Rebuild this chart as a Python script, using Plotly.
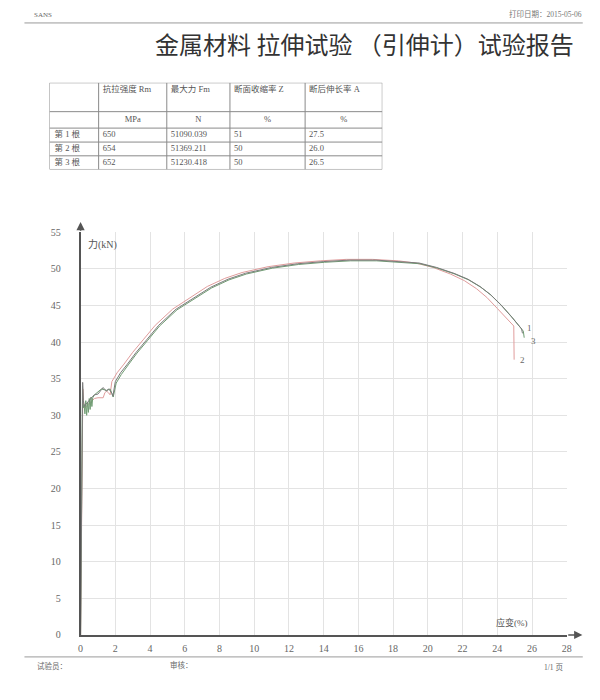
import plotly.graph_objects as go

# ---------------- data ----------------
table_header = ["", "抗拉强度 Rm", "最大力 Fm", "断面收缩率 Z", "断后伸长率 A"]
units = ["", "MPa", "N", "%", "%"]
specimens = ["第 1 根", "第 2 根", "第 3 根"]
rm_mpa = ["650", "654", "652"]
fm_n = ["51090.039", "51369.211", "51230.418"]
z_pct = ["51", "50", "50"]
a_pct = ["27.5", "26.0", "26.5"]

strain_1 = [0, 0.08, 0.12, 0.16, 0.22, 0.3, 0.4, 0.5, 0.6, 0.7, 0.8, 1.0, 1.2, 1.3, 1.4, 1.5,
            1.6, 1.7, 1.8, 1.86, 2.0, 2.3, 2.7, 3.2, 3.8, 4.5, 5.5, 6.5, 7.5, 8.5, 9.5, 11,
            12.5, 14, 15.5, 17, 18.5, 19.5, 20.5, 21.5, 22.3, 23, 23.6, 24.2, 24.8, 25.4, 25.45]
force_1 = [0, 30, 34.5, 32, 31.2, 31.5, 31.8, 32.0, 32.3, 32.6, 32.8, 32.9, 33.5, 33.8, 33.5, 33.3,
           33.6, 33.4, 33.0, 32.6, 34.6, 35.8, 37.0, 38.6, 40.3, 42.3, 44.5, 46.0, 47.5, 48.6, 49.4, 50.2,
           50.7, 51.0, 51.2, 51.2, 51.0, 50.8, 50.2, 49.4, 48.6, 47.6, 46.5, 45.1, 43.5, 41.8, 41.2]

strain_2 = [0, 0.09, 0.13, 0.18, 0.25, 0.4, 0.6, 0.8, 1.0, 1.3, 1.4, 1.5, 1.6, 1.7, 1.8, 2.1,
            2.5, 3.0, 3.6, 4.3, 5.3, 6.3, 7.3, 8.3, 9.3, 10.8, 12.3, 13.8, 15.3, 16.8, 18.3, 19.3,
            20.3, 21.3, 22.1, 22.8, 23.4, 24.0, 24.5, 24.95, 24.97]
force_2 = [0, 28, 33.6, 31.5, 31.0, 31.4, 31.9, 32.3, 32.4, 32.4, 33.1, 33.3, 33.1, 32.8, 34.6, 35.8,
           37.0, 38.6, 40.3, 42.3, 44.5, 46.1, 47.6, 48.7, 49.5, 50.3, 50.8, 51.1, 51.3, 51.3, 51.1, 50.8,
           50.2, 49.3, 48.4, 47.3, 46.1, 44.6, 43.3, 42.2, 37.6]

strain_3 = [0, 0.07, 0.11, 0.15, 0.2, 0.25, 0.3, 0.35, 0.4, 0.45, 0.5, 0.55, 0.6, 0.65, 0.7, 0.8,
            1.0, 1.2, 1.5, 1.7, 1.8, 1.88, 2.05, 2.35, 2.75, 3.25, 3.85, 4.55, 5.55, 6.55, 7.55, 8.55,
            9.55, 11.05, 12.55, 14.05, 15.55, 17.05, 18.55, 19.55, 20.55, 21.55, 22.35, 23.05, 23.65,
            24.25, 24.85, 25.5, 25.55]
force_3 = [0, 29, 34.0, 31.0, 31.5, 30.2, 32.0, 30.0, 31.8, 30.4, 32.3, 30.8, 32.5, 31.2, 32.4, 32.8,
           33.2, 33.6, 33.4, 33.6, 33.0, 32.5, 34.4, 35.6, 36.9, 38.5, 40.2, 42.2, 44.4, 45.9, 47.4, 48.5,
           49.3, 50.1, 50.6, 50.9, 51.1, 51.1, 50.9, 50.7, 50.1, 49.3, 48.5, 47.5, 46.4,
           45.0, 43.4, 41.5, 40.6]

x_ticks = list(range(0, 29, 2))
y_ticks = list(range(0, 56, 5))

# ---------------- layout helpers ----------------
W, H = 600, 700
SC, CX, CY = 0.986, 2.6, 4.0      # compensation for the rendering scale
def px(x):
    return ((x - CX) / SC) / W
def py(y):
    return 1 - ((y - CY) / SC) / H

serif = "Liberation Serif, Noto Sans CJK SC"
cjk = "Noto Sans CJK SC"
tcolor = "#555"
tsize = 8.5

# table grid (in table-local pixel units)
col_edges = [0, 49, 117, 180, 255, 332]
row_edges = [0, 29, 45.5, 59.5, 73.3, 87]

fig = go.Figure()

# ---- table drawn on its own hidden axes ----
pad = 4
hx = [col_edges[i] + pad for i in range(1, 5)]
fig.add_trace(go.Scatter(x=hx, y=[7] * 4, text=table_header[1:], mode="text",
                         textposition="middle right", xaxis="x2", yaxis="y2", hoverinfo="skip",
                         textfont=dict(family=serif, size=tsize, color=tcolor)))
ux = [(col_edges[i] + col_edges[i + 1]) / 2 for i in range(1, 5)]
uy = (row_edges[1] + row_edges[2]) / 2
fig.add_trace(go.Scatter(x=ux, y=[uy] * 4, text=units[1:], mode="text",
                         textposition="middle center", xaxis="x2", yaxis="y2", hoverinfo="skip",
                         textfont=dict(family=serif, size=tsize, color=tcolor)))
cols = [specimens, rm_mpa, fm_n, z_pct, a_pct]
tx, ty, tt = [], [], []
for r in range(3):
    yc = (row_edges[r + 2] + row_edges[r + 3]) / 2
    for c in range(5):
        tx.append(col_edges[c] + pad + (1 if c == 0 else 0))
        ty.append(yc)
        tt.append(cols[c][r])
fig.add_trace(go.Scatter(x=tx, y=ty, text=tt, mode="text", textposition="middle right",
                         xaxis="x2", yaxis="y2", hoverinfo="skip",
                         textfont=dict(family=serif, size=tsize, color=tcolor)))
for xe in col_edges:
    fig.add_shape(type="line", xref="x2", yref="y2", x0=xe, x1=xe, y0=0, y1=row_edges[-1],
                  line=dict(color="#8a8a8a", width=1))
for ye in row_edges:
    fig.add_shape(type="line", xref="x2", yref="y2", x0=0, x1=col_edges[-1], y0=ye, y1=ye,
                  line=dict(color="#8a8a8a", width=1))

# ---- curves ----
fig.add_trace(go.Scatter(x=strain_2, y=force_2, mode="lines", name="2",
                         line=dict(color="#e09c9c", width=1)))
fig.add_trace(go.Scatter(x=strain_3, y=force_3, mode="lines", name="3",
                         line=dict(color="#6f9c72", width=1)))
fig.add_trace(go.Scatter(x=strain_1, y=force_1, mode="lines", name="1",
                         line=dict(color="#7a7a7a", width=1)))

axis_common = dict(showgrid=True, gridcolor="#e3e3e3", gridwidth=1, zeroline=False,
                   showline=True, linecolor="#555", linewidth=1.5, ticks="",
                   tickfont=dict(family=serif, size=10, color="#666"), fixedrange=True)

fig.update_layout(
    width=W, height=H, margin=dict(l=0, r=0, t=0, b=0),
    paper_bgcolor="white", plot_bgcolor="white", showlegend=False,
    xaxis=dict(domain=[px(81), px(566)], range=[0, 28], tickvals=x_ticks,
               ticklabelstandoff=3, **axis_common),
    yaxis=dict(domain=[py(635), py(231)], range=[0, 55], tickvals=y_ticks,
               ticklabelstandoff=16, **axis_common),
    xaxis2=dict(domain=[px(50), px(382)], range=[0, col_edges[-1]], visible=False,
                fixedrange=True, anchor="y2"),
    yaxis2=dict(domain=[py(168), py(81)], range=[row_edges[-1], 0], visible=False,
                fixedrange=True, anchor="x2"),
)

# axis arrows
fig.add_annotation(x=28.9, y=0, ax=28, ay=0, xref="x", yref="y", axref="x", ayref="y",
                   text="", showarrow=True, arrowhead=2, arrowsize=1.1, arrowwidth=1.5,
                   arrowcolor="#555", standoff=0)
fig.add_annotation(x=0, y=56.4, ax=0, ay=55, xref="x", yref="y", axref="x", ayref="y",
                   text="", showarrow=True, arrowhead=2, arrowsize=1.1, arrowwidth=1.5,
                   arrowcolor="#555", standoff=0)

# curve labels
for lbl, xx, yy in [("1", 25.6, 41.9), ("3", 25.8, 40.1), ("2", 25.2, 37.6)]:
    fig.add_annotation(x=xx, y=yy, xref="x", yref="y", text=lbl, showarrow=False,
                       xanchor="left", yanchor="middle",
                       font=dict(family=serif, size=9, color="#666"))

def note(text, x, y, anchor, size, family=serif, color="#555"):
    fig.add_annotation(x=px(x), y=py(y), xref="paper", yref="paper", text=text,
                       showarrow=False, xanchor=anchor, yanchor="middle",
                       font=dict(family=family, size=size, color=color))

# axis titles
note("力(kN)", 86, 243, "left", 10)
note("应变(%)", 493, 622, "left", 9)

# page header / footer
note("SANS", 33, 13, "left", 7, color="#666")
note("打印日期：2015-05-06", 583, 12, "right", 7.5, color="#777")
note("金属材料 拉伸试验 （引伸计）试验报告", 364, 42, "center", 24, family=cjk, color="#333")
note("试验员：", 36, 666, "left", 7.5, family=cjk, color="#666")
note("审核：", 168, 665, "left", 7.5, family=cjk, color="#666")
note("1/1 页", 564, 668, "right", 7.5, color="#666")

fig.add_shape(type="line", xref="paper", yref="paper", x0=px(25), x1=px(582), y0=py(21), y1=py(21),
              line=dict(color="#9a9a9a", width=1))
fig.add_shape(type="line", xref="paper", yref="paper", x0=px(25), x1=px(582), y0=py(657), y1=py(657),
              line=dict(color="#9a9a9a", width=1))

fig.write_html("out.html", config={"displayModeBar": False},
               post_script="document.body.style.margin='0px';")
